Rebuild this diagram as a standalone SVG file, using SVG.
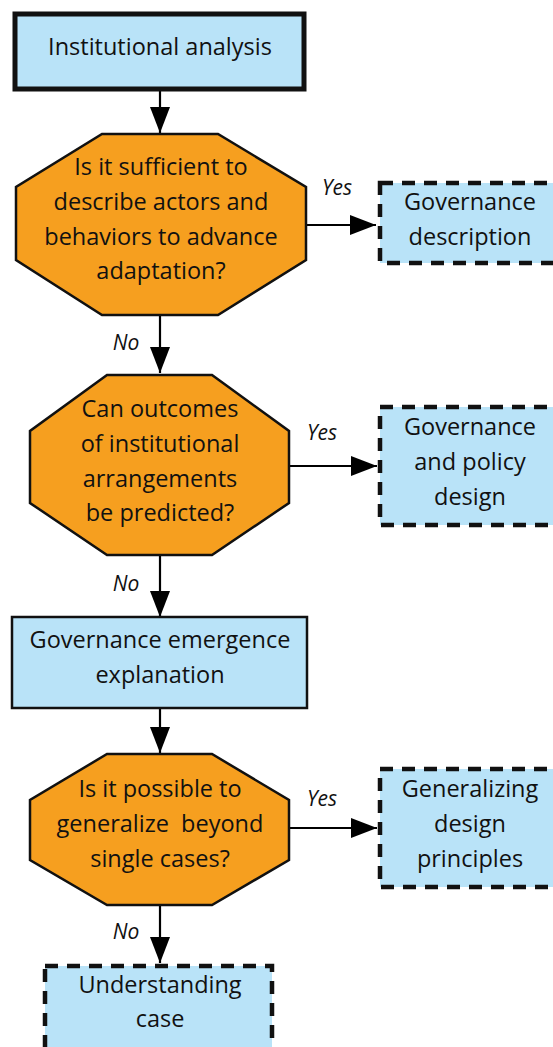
<svg xmlns="http://www.w3.org/2000/svg" width="553" height="1047" viewBox="0 0 553 1047">
<defs>
<marker id="ah" markerUnits="userSpaceOnUse" markerWidth="26" markerHeight="20" refX="26" refY="10" orient="auto">
<path d="M0,0 L26,10 L0,20 Z" fill="#000"/>
</marker>
<style>
.t{font-family:"Open Sans","Noto Sans",sans-serif;font-size:23.5px;fill:#111;text-anchor:middle}
.l{font-family:"Open Sans","Noto Sans",sans-serif;font-size:21px;font-style:italic;fill:#111;text-anchor:middle}
.blue{fill:#b9e3f8}
.oct{fill:#f69f1f;stroke:#111;stroke-width:2.5;stroke-linejoin:miter}
.dash{fill:#b9e3f8;stroke:#111;stroke-width:4.5;stroke-dasharray:13 9}
.c{stroke:#000;stroke-width:2.2;fill:none;marker-end:url(#ah)}
</style>
</defs>
<rect width="553" height="1047" fill="#fff"/>
<g id="connectors">
<line class="c" x1="160" y1="90" x2="160" y2="133"/>
<line class="c" x1="306" y1="225" x2="376" y2="225"/>
<line class="c" x1="160" y1="316" x2="160" y2="373"/>
<line class="c" x1="289" y1="466" x2="377" y2="466"/>
<line class="c" x1="160" y1="555" x2="160" y2="617"/>
<line class="c" x1="160" y1="708" x2="160" y2="753"/>
<line class="c" x1="289" y1="828" x2="377" y2="828"/>
<line class="c" x1="160" y1="905" x2="160" y2="963"/>
<text class="l" x="337" y="195">Yes</text>
<text class="l" x="126" y="350">No</text>
<text class="l" x="322" y="440">Yes</text>
<text class="l" x="126" y="591">No</text>
<text class="l" x="322" y="806">Yes</text>
<text class="l" x="126" y="939">No</text>
</g>
<g id="n1">
<rect x="15" y="14" width="289" height="75" class="blue" stroke="#111" stroke-width="5"/>
<text class="t" x="160" y="55">Institutional analysis</text>
</g>
<g id="q1">
<polygon class="oct" points="102,134 218,134 306,187 306,260 218,315 102,315 16,260 16,187"/>
<text class="t" x="161" y="175">Is it sufficient to</text>
<text class="t" x="161" y="210">describe actors and</text>
<text class="t" x="161" y="245">behaviors to advance</text>
<text class="t" x="161" y="279">adaptation?</text>
</g>
<g id="r1">
<rect x="380" y="183" width="190" height="80" class="dash"/>
<text class="t" x="470" y="210">Governance</text>
<text class="t" x="470" y="245">description</text>
</g>
<g id="q2">
<polygon class="oct" points="107,375 212,375 289,431 289,503 212,555 107,555 30,503 30,431"/>
<text class="t" x="160" y="417">Can outcomes</text>
<text class="t" x="160" y="452">of institutional</text>
<text class="t" x="160" y="487">arrangements</text>
<text class="t" x="160" y="521">be predicted?</text>
</g>
<g id="r2">
<rect x="380" y="407" width="190" height="118" class="dash"/>
<text class="t" x="470" y="435">Governance</text>
<text class="t" x="470" y="470">and policy</text>
<text class="t" x="470" y="505">design</text>
</g>
<g id="n2">
<rect x="12" y="617" width="295" height="91" class="blue" stroke="#111" stroke-width="2.5"/>
<text class="t" x="160" y="648">Governance emergence</text>
<text class="t" x="160" y="683">explanation</text>
</g>
<g id="q3">
<polygon class="oct" points="107,754 212,754 289,800 289,860 212,905 107,905 30,860 30,800"/>
<text class="t" x="160" y="797">Is it possible to</text>
<text class="t" x="160" y="832" style="white-space:pre">generalize  beyond</text>
<text class="t" x="160" y="867">single cases?</text>
</g>
<g id="r3">
<rect x="380" y="769" width="190" height="118" class="dash"/>
<text class="t" x="470" y="797">Generalizing</text>
<text class="t" x="470" y="832">design</text>
<text class="t" x="470" y="867">principles</text>
</g>
<g id="r4">
<rect x="45" y="966" width="227" height="100" class="dash"/>
<text class="t" x="160" y="993">Understanding</text>
<text class="t" x="160" y="1027">case</text>
</g>
</svg>
